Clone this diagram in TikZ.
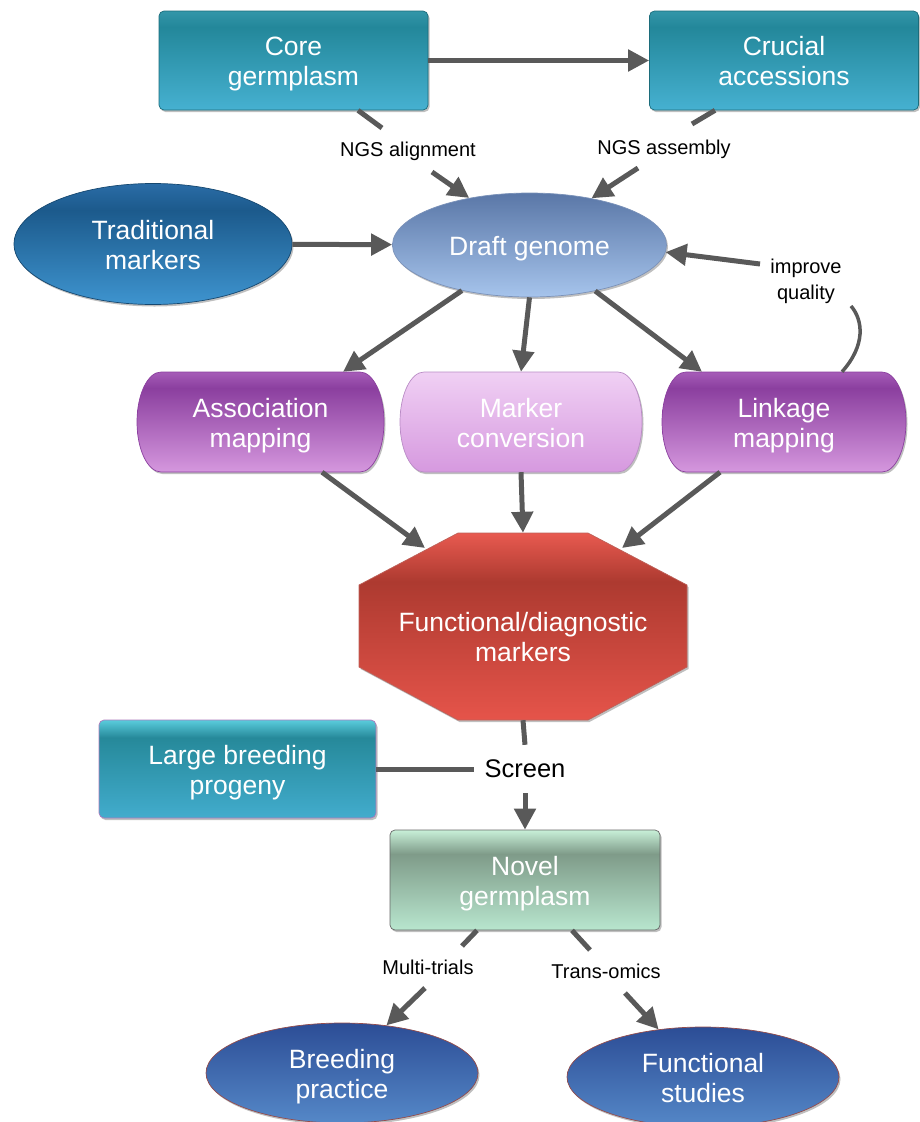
\documentclass[tikz,border=0pt]{standalone}
\usepackage{fontspec}
\setmainfont{Liberation Sans}
\usetikzlibrary{arrows.meta,shapes.misc,shapes.geometric,shadows}

\newcommand\hs{\rule{0pt}{26pt}}
\newcommand\hsf{\rule{0pt}{46pt}}
\newcommand\ds{\rule[-5.5pt]{0pt}{5.5pt}}

\definecolor{arrgray}{HTML}{595959}
\definecolor{tealA}{HTML}{3396A9}\definecolor{tealB}{HTML}{23879A}\definecolor{tealC}{HTML}{46B1D1}
\definecolor{lbpA}{HTML}{5ACCDC}\definecolor{lbpB}{HTML}{26899A}\definecolor{lbpC}{HTML}{42ACCD}
\definecolor{novA}{HTML}{C8F0D8}\definecolor{novB}{HTML}{7F9B89}\definecolor{novC}{HTML}{B8E6CE}
\definecolor{purA}{HTML}{A65CB8}\definecolor{purB}{HTML}{8B3F9F}\definecolor{purC}{HTML}{D597DE}
\definecolor{mrkA}{HTML}{F0D0F4}\definecolor{mrkC}{HTML}{D699DF}
\definecolor{trdA}{HTML}{2A6CA6}\definecolor{trdB}{HTML}{1C5A8C}\definecolor{trdC}{HTML}{3E94CF}
\definecolor{drfA}{HTML}{5A77A7}\definecolor{drfC}{HTML}{A6C4EC}
\definecolor{bluA}{HTML}{2C4D96}\definecolor{bluC}{HTML}{5588C8}
\definecolor{redA}{HTML}{E85A50}\definecolor{redB}{HTML}{AD3A30}\definecolor{redC}{HTML}{E5544A}

\pgfdeclareverticalshading{tealsh}{100bp}{color(0bp)=(tealC); color(25bp)=(tealC); color(67bp)=(tealB); color(75bp)=(tealA); color(100bp)=(tealA)}
\pgfdeclareverticalshading{lbpsh}{100bp}{color(0bp)=(lbpC); color(25bp)=(lbpC); color(66bp)=(lbpB); color(75bp)=(lbpA); color(100bp)=(lbpA)}
\pgfdeclareverticalshading{novsh}{100bp}{color(0bp)=(novC); color(25bp)=(novC); color(63bp)=(novB); color(75bp)=(novA); color(100bp)=(novA)}
\pgfdeclareverticalshading{pursh}{100bp}{color(0bp)=(purC); color(25bp)=(purC); color(67bp)=(purB); color(75bp)=(purA); color(100bp)=(purA)}
\pgfdeclareverticalshading{mrksh}{100bp}{color(0bp)=(mrkC); color(25bp)=(mrkC); color(75bp)=(mrkA); color(100bp)=(mrkA)}
\pgfdeclareverticalshading{trdsh}{100bp}{color(0bp)=(trdC); color(25bp)=(trdC); color(64bp)=(trdB); color(75bp)=(trdA); color(100bp)=(trdA)}
\pgfdeclareverticalshading{drfsh}{100bp}{color(0bp)=(drfC); color(25bp)=(drfC); color(75bp)=(drfA); color(100bp)=(drfA)}
\pgfdeclareverticalshading{blush}{100bp}{color(0bp)=(bluC); color(25bp)=(bluC); color(75bp)=(bluA); color(100bp)=(bluA)}
\pgfdeclareverticalshading{redsh}{100bp}{color(0bp)=(redC); color(25bp)=(redC); color(62bp)=(redB); color(75bp)=(redA); color(100bp)=(redA)}

\tikzset{
  txt/.style={text=white, align=center, font=\fontsize{26.5}{30}\selectfont},
  shad/.style={drop shadow={shadow xshift=1.5pt, shadow yshift=-2pt, opacity=0.25, fill=black}},
  tealbox/.style={txt, shad, rectangle, rounded corners=5pt, shading=tealsh, draw=tealB!80!black, line width=0.7pt, minimum width=269pt, minimum height=99pt},
  lbpbox/.style={txt, shad, rectangle, rounded corners=5pt, shading=lbpsh, draw=purB!70, line width=0.7pt, minimum width=277pt, minimum height=98pt},
  novbox/.style={txt, shad, rectangle, rounded corners=5pt, shading=novsh, draw=black!60, line width=0.7pt, minimum width=270pt, minimum height=100pt},
  trdell/.style={txt, shad, ellipse, shading=trdsh, draw=trdB!80!black, line width=0.7pt, minimum width=278pt, minimum height=121pt, inner sep=0pt},
  drfell/.style={txt, shad, ellipse, shading=drfsh, draw=drfA!80, line width=0.7pt, minimum width=274pt, minimum height=104pt, inner sep=0pt},
  bluell/.style={txt, shad, ellipse, shading=blush, draw=red!40!black!70, line width=0.7pt, minimum width=272pt, minimum height=100pt, inner sep=0pt},
  lab/.style={text=black, align=center, font=\fontsize{20}{26}\selectfont, inner sep=2pt},
  arr/.style={draw=arrgray, line width=5pt, -{Triangle[length=21pt,width=21pt]}},
  ln/.style={draw=arrgray, line width=5pt},
  capl/.style={x radius=24pt, y radius=50pt}
}

\begin{document}
\begin{tikzpicture}[x=1pt,y=-1pt]
\useasboundingbox (0,0) rectangle (920,1122);

% nodes
\node[tealbox] (core) at (293.5,60.5) {\hs Core\\germplasm\ds};
\node[tealbox] (cruc) at (784,60.5) {\hs Crucial\\accessions\ds};
\node[lab] (ngsal) at (408,151) {NGS alignment};
\node[lab] (ngsas) at (664,149) {NGS assembly};
\node[trdell] (trad) at (153,244) {\hs Traditional\\markers\ds};
\node[drfell] (draft) at (529.5,245) {\hs Draft genome\ds};
\node[lab] (impr) at (806,281) {improve\\quality};

% capsule shapes
\shade[shading=pursh, draw=purB, line width=0.7pt, shad]
  (161,372) -- (360,372) arc[start angle=90, end angle=-90, capl] -- (161,472) arc[start angle=270, end angle=90, capl] -- cycle;
\shade[shading=mrksh, draw=purB!60, line width=0.7pt, shad]
  (424,372) -- (618,372) arc[start angle=90, end angle=-90, capl] -- (424,472) arc[start angle=270, end angle=90, capl] -- cycle;
\shade[shading=pursh, draw=purB, line width=0.7pt, shad]
  (686,372) -- (882,372) arc[start angle=90, end angle=-90, capl] -- (686,472) arc[start angle=270, end angle=90, capl] -- cycle;
\node[txt, minimum width=247pt, minimum height=100pt] (assoc) at (260.5,422) {\hs Association\\mapping\ds};
\node[txt, minimum width=242pt, minimum height=100pt] (marker) at (521,422) {\hs Marker\\conversion\ds};
\node[txt, minimum width=244pt, minimum height=100pt] (link) at (784,422) {\hs Linkage\\mapping\ds};

% octagon
\shade[shading=redsh, draw=redB!80, line width=0.7pt, shad]
  (458,533) -- (588,533) -- (687,585) -- (687,667) -- (588,720) -- (458,720) -- (359,667) -- (359,585) -- cycle;
\node[txt, minimum width=328pt, minimum height=187pt] (func) at (523,626.5) {\hsf Functional/diagnostic\\markers\ds};

\node[lbpbox] (lbp) at (237.5,769) {\hs Large breeding\\progeny\ds};
\node[text=black, font=\fontsize{25.5}{30}\selectfont, minimum height=48pt, inner xsep=10pt] (screen) at (525,769) {Screen};
\node[novbox] (novel) at (525,880) {\hs Novel\\germplasm\ds};
\node[lab] (multi) at (428,967) {Multi-trials};
\node[lab] (trans) at (606,971) {Trans-omics};
\node[bluell] (breed) at (342,1073) {\hs Breeding\\practice\ds};
\node[bluell] (fstud) at (703,1077) {\hs Functional\\studies\ds};

% free ends
\coordinate (c1) at (382,128);
\coordinate (c2) at (432,172);
\coordinate (c3) at (692,124);
\coordinate (c4) at (638,168);
\coordinate (c5) at (760,264);
\coordinate (c6) at (851,306);
\coordinate (f1) at (425,548);
\coordinate (f2) at (622,548);
\coordinate (n1) at (462,946);
\coordinate (n2) at (590,950);
\coordinate (m1) at (425,988);
\coordinate (t1) at (625,993);

% connectors
\draw[arr] (core) -- (cruc);
\draw[ln] ([xshift=64.5pt]core.south) -- (c1);
\draw[arr] (c2) -- (draft.142);
\draw[ln] ([xshift=-69pt]cruc.south) -- (c3);
\draw[arr] (c4) -- (draft.37);
\draw[arr] (trad) -- (draft);
\draw[arr] (c5) -- (draft.-3);
\draw[draw=arrgray, line width=3.5pt] ([xshift=58pt]link.north) .. controls (866,345) and (863,320) .. (c6);
\draw[arr] (draft.-146) -- ([xshift=82.5pt]assoc.north);
\draw[arr] (draft.south) -- (marker.north);
\draw[arr] (draft.-35) -- ([xshift=-82pt]link.north);
\draw[arr] ([xshift=61.5pt]assoc.south) -- (f1);
\draw[arr] (marker.south) -- (func.north);
\draw[arr] ([xshift=-64pt]link.south) -- (f2);
\draw[ln] (func.south) -- (screen.north);
\draw[ln] (lbp.east) -- (screen.west);
\draw[arr] (screen.south) -- (novel.north);
\draw[ln] ([xshift=-48pt]novel.south) -- (n1);
\draw[ln] ([xshift=47pt]novel.south) -- (n2);
\draw[arr] (m1) -- (breed.47);
\draw[arr] (t1) -- (fstud.133);
\end{tikzpicture}
\end{document}
